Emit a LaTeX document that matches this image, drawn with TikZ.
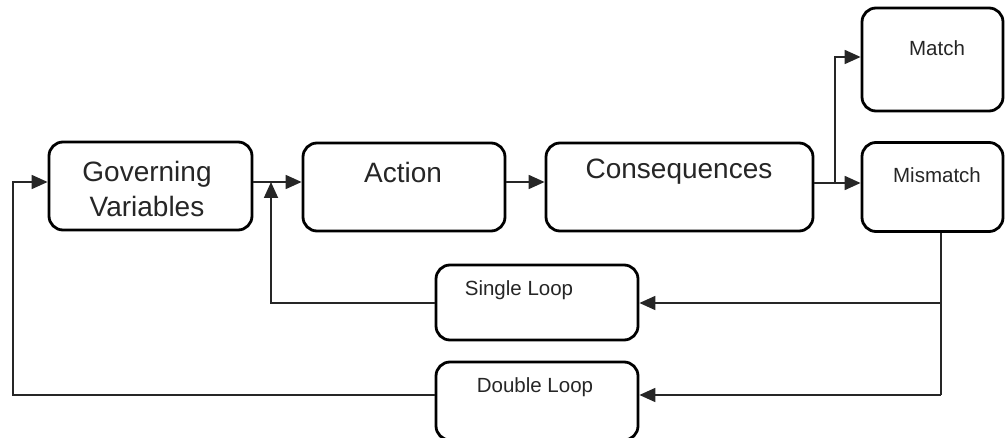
\documentclass[tikz,border=0pt]{standalone}
\usepackage{fontspec}
\setmainfont{Liberation Sans}
\usetikzlibrary{arrows.meta}
\tikzset{
  box/.style={draw=black, line width=2.8pt, rounded corners=14pt, inner sep=0pt, fill=white},
  big/.style={font=\fontsize{28}{33}\selectfont, text=black!85, align=center, inner sep=0pt},
  small/.style={font=\fontsize{20.5}{24}\selectfont, text=black!85, align=center, inner sep=0pt},
  conn/.style={line width=1.8pt, black!85},
  arr/.style={conn, -{Triangle[length=16pt,width=14pt]}},
}
\begin{document}
\begin{tikzpicture}[x=1pt,y=-1pt]
\useasboundingbox (0,0) rectangle (1006,438);
% boxes
\node[box, minimum width=203pt, minimum height=88pt] (gv) at (150.5,186) {};
\node[box, minimum width=202pt, minimum height=88pt] (act) at (404,187) {};
\node[box, minimum width=267pt, minimum height=88pt] (con) at (679.5,187) {};
\node[box, minimum width=141pt, minimum height=103pt] (mat) at (932.5,59.5) {};
\node[box, minimum width=141pt, minimum height=89pt] (mis) at (932.5,187) {};
\node[box, minimum width=202pt, minimum height=75pt] (sl) at (537,302.5) {};
\node[box, minimum width=202pt, minimum height=78pt] (dl) at (537,401) {};
% texts
\node[big] (gvt) at (147,189) {Governing\\[2pt]Variables};
\node[big] (actt) at (403,172) {Action};
\node[big] (cont) at (679,172) {Consequences};
\node[small] (matt) at (937,48) {Match};
\node[small] (mist) at (937,175) {Mismatch};
\node[small] (slt) at (519,290) {Single Loop};
\node[small] (dlt) at (535,387) {Double Loop};
% coordinates
\coordinate (j1) at (271,182);
\coordinate (s1) at (271,303);
\coordinate (br) at (835,183);
\coordinate (bt) at (835,57);
\coordinate (mb) at (941,231);
\coordinate (m1) at (941,303);
\coordinate (m2) at (941,395);
\coordinate (d1) at (13,395);
\coordinate (d2) at (13,182);
% connectors
\draw[arr] (gv.east |- j1) -- (act.west |- j1);
\draw[arr] (act.east |- 0,182) -- (con.west |- 0,182);
\draw[arr] (con.east |- br) -- (mis.west |- br);
\draw[arr] (br) -- (bt) -- (mat.west |- bt);
\draw[arr] (sl.west |- s1) -- (s1) -- (j1);
\draw[arr] (dl.west |- d1) -- (d1) -- (d2) -- (gv.west |- d2);
\draw[conn] (mis.south -| mb) -- (m2);
\draw[arr] (m1) -- (sl.east |- m1);
\draw[arr] (m2) -- (dl.east |- m2);
\end{tikzpicture}
\end{document}
